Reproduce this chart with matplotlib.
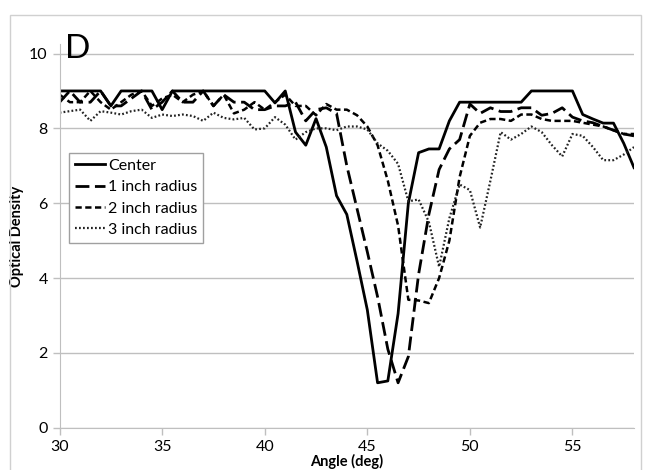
import matplotlib.pyplot as plt
from matplotlib.patches import Rectangle

plt.rcParams['font.family'] = ['Lato', 'DejaVu Sans']

# angle in degrees, one reading every 0.5 deg
angle = [30 + 0.5 * i for i in range(57)]

center = [9.0, 9.0, 9.0, 9.0, 9.0, 8.6, 9.0, 9.0, 9.0, 9.0,
          8.5, 9.0, 9.0, 9.0, 9.0, 9.0, 9.0, 9.0, 9.0, 9.0,
          9.0, 8.68, 9.0, 7.9, 7.55, 8.26, 7.5, 6.2, 5.7, 4.45,
          3.15, 1.2, 1.25, 3.05, 6.0, 7.35, 7.45, 7.45, 8.2, 8.7,
          8.7, 8.7, 8.7, 8.7, 8.7, 8.7, 9.0, 9.0, 9.0, 9.0,
          9.0, 8.37, 8.25, 8.14, 8.14, 7.6, 6.95]

inch1 = [8.7, 9.0, 8.7, 8.7, 9.0, 8.6, 8.6, 8.8, 9.0, 8.5,
         8.7, 9.0, 8.7, 8.7, 9.0, 8.6, 8.9, 8.7, 8.7, 8.5,
         8.5, 8.6, 8.6, 8.7, 8.2, 8.5, 8.55, 8.4, 7.0, 5.85,
         4.7, 3.5, 2.1, 1.2, 1.9, 4.1, 5.7, 6.9, 7.45, 7.7,
         8.65, 8.4, 8.55, 8.45, 8.45, 8.55, 8.55, 8.35, 8.4, 8.55,
         8.3, 8.2, 8.15, 8.05, 7.95, 7.85, 7.8]

inch2 = [8.9, 8.7, 8.7, 9.0, 8.7, 8.5, 8.7, 8.9, 9.0, 8.6,
         8.8, 8.9, 8.7, 8.9, 9.0, 8.6, 8.9, 8.4, 8.5, 8.7,
         8.5, 8.7, 8.9, 8.6, 8.6, 8.35, 8.65, 8.5, 8.5, 8.35,
         8.05, 7.55, 6.6, 5.4, 3.42, 3.4, 3.33, 4.0, 5.0, 6.7,
         7.8, 8.15, 8.25, 8.25, 8.2, 8.37, 8.37, 8.25, 8.2, 8.2,
         8.2, 8.15, 8.1, 8.05, 7.95, 7.85, 7.85]

inch3 = [8.42, 8.46, 8.5, 8.2, 8.46, 8.42, 8.37, 8.46, 8.5, 8.28,
         8.37, 8.33, 8.37, 8.33, 8.2, 8.42, 8.28, 8.24, 8.28, 7.97,
         8.0, 8.3, 8.1, 7.7, 7.9, 8.0, 8.0, 7.95, 8.05, 8.05,
         7.97, 7.6, 7.4, 7.05, 6.05, 6.1, 5.5, 4.3, 5.6, 6.5,
         6.35, 5.35, 6.6, 7.9, 7.7, 7.85, 8.05, 7.9, 7.55, 7.25,
         7.85, 7.8, 7.5, 7.15, 7.15, 7.3, 7.5]

labels = ['Center', '1 inch radius', '2 inch radius', '3 inch radius']

grey = '#BFBFBF'

fig = plt.figure(figsize=(6.52, 4.70), dpi=100)
ax = fig.add_axes([0.0914, 0.09, 0.881, 0.816])

ax.plot(angle, center, color='black', lw=2.0, label=labels[0])
ax.plot(angle, inch1, color='black', lw=2.0, dashes=(5, 2), label=labels[1])
ax.plot(angle, inch2, color='black', lw=1.8, dashes=(2.5, 1.4), label=labels[2])
ax.plot(angle, inch3, color='#222222', lw=1.6, dashes=(0.8, 1.0), label=labels[3])

ax.set_xlim(30, 58)
ax.set_ylim(0, 10.25)
ax.set_xticks([30, 35, 40, 45, 50, 55])
ax.set_yticks([0, 2, 4, 6, 8, 10])
ax.grid(axis='y', color=grey, lw=1)
ax.set_axisbelow(True)
for s in ['top', 'right']:
    ax.spines[s].set_visible(False)
for s in ['left', 'bottom']:
    ax.spines[s].set_color(grey)
ax.tick_params(colors=grey, labelcolor='black', labelsize=11.5, length=5, width=1)

ax.set_ylabel('Optical Density', fontweight='bold', fontsize=10.5, labelpad=4)
fig.text(0.532, 0.002, 'Angle (deg)', fontweight='bold', fontsize=10.5,
         ha='center', va='bottom')

ax.text(30.25, 10.12, 'D', fontsize=24, ha='left', va='center')

leg = ax.legend(loc='upper left', bbox_to_anchor=(0.0165, 0.716), borderaxespad=0,
                fontsize=11.5, handlelength=1.9, handletextpad=0.2,
                labelspacing=0.45, borderpad=0.35, fancybox=False, framealpha=1)
leg.get_frame().set_edgecolor('#A0A0A0')
leg.get_frame().set_linewidth(1)

fig.patches.append(Rectangle((0.0153, -0.05), 0.968, 1.018, transform=fig.transFigure,
                             fill=False, edgecolor='#D0D0D0', lw=1))

fig.savefig('out.png', dpi=100)
